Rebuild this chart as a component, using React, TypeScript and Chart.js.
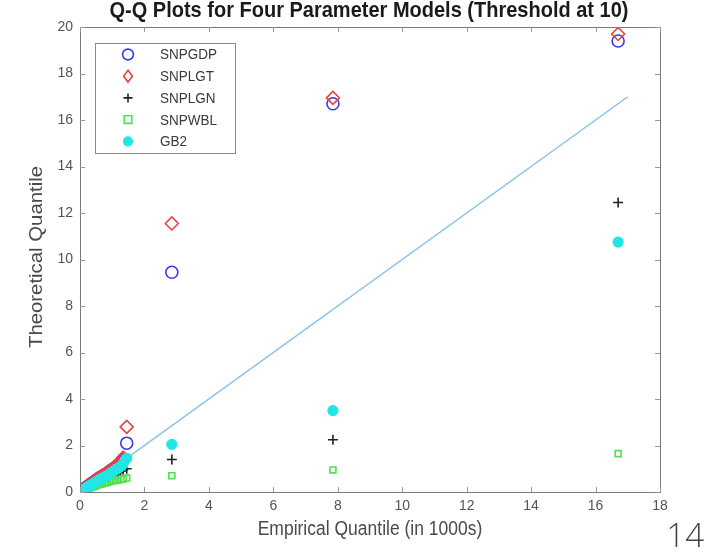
import React, { useEffect, useRef } from "react";
import { Chart, registerables } from "chart.js";

Chart.register(...registerables);

const titleText = "Q-Q Plots for Four Parameter Models (Threshold at 10)";
const xTitle = "Empirical Quantile (in 1000s)";
const yTitle = "Theoretical Quantile";
const xTicks = [0, 2, 4, 6, 8, 10, 12, 14, 16, 18];
const yTicks = [0, 2, 4, 6, 8, 10, 12, 14, 16, 18, 20];

const empirical = [0.02, 0.06, 0.1, 0.15, 0.2, 0.25, 0.3, 0.36, 0.42, 0.48, 0.55, 0.62, 0.7, 0.78, 0.86, 0.94, 1.02, 1.1, 1.18, 1.26, 1.34, 1.45, 2.85, 7.85, 16.7];
const snpgdp = [0.02, 0.06, 0.1, 0.15, 0.2, 0.25, 0.3, 0.36, 0.42, 0.48, 0.55, 0.62, 0.68, 0.75, 0.82, 0.9, 0.98, 1.06, 1.15, 1.25, 1.38, 2.1, 9.45, 16.7, 19.4];
const snplgt = [0.02, 0.06, 0.1, 0.16, 0.21, 0.26, 0.32, 0.38, 0.44, 0.5, 0.57, 0.64, 0.7, 0.78, 0.86, 0.94, 1.02, 1.1, 1.2, 1.32, 1.48, 2.8, 11.55, 16.95, 19.7];
const snplgn = [0.01, 0.04, 0.07, 0.11, 0.15, 0.19, 0.23, 0.27, 0.31, 0.35, 0.4, 0.45, 0.5, 0.55, 0.6, 0.66, 0.72, 0.78, 0.84, 0.9, 0.96, 1.0, 1.4, 2.25, 12.45];
const snpwbl = [0.01, 0.03, 0.05, 0.08, 0.11, 0.14, 0.17, 0.2, 0.23, 0.26, 0.3, 0.33, 0.36, 0.39, 0.42, 0.45, 0.48, 0.5, 0.52, 0.54, 0.56, 0.6, 0.7, 0.95, 1.65];
const gb2 = [0.02, 0.05, 0.09, 0.13, 0.18, 0.22, 0.27, 0.32, 0.37, 0.42, 0.48, 0.54, 0.6, 0.66, 0.72, 0.8, 0.88, 0.95, 1.02, 1.1, 1.2, 1.45, 2.05, 3.5, 10.75];
const refLineX = [0, 17];
const refLineY = [0, 17];

const seriesNames = ["SNPGDP", "SNPLGT", "SNPLGN", "SNPWBL", "GB2"];
const seriesValues = [snpgdp, snplgt, snplgn, snpwbl, gb2];
const seriesColors = ["#3a3ae6", "#e84444", "#222222", "#4fe04f", "#22e6e6"];
const seriesStyles = ["circle", "rectRot", "cross", "rect", "circle"];
const seriesFill = [false, false, false, false, true];
const seriesRadius = [6, 6.5, 5, 4.2, 4.8];

const FONT = "'Liberation Sans', Arial, sans-serif";

function drawMarker(ctx: CanvasRenderingContext2D, style: string, x: number, y: number, r: number, color: string, fill: boolean) {
  ctx.save();
  ctx.strokeStyle = color;
  ctx.fillStyle = color;
  ctx.lineWidth = 1.6;
  ctx.beginPath();
  if (style === "circle") {
    ctx.arc(x, y, r, 0, Math.PI * 2);
  } else if (style === "rectRot") {
    ctx.moveTo(x, y - r);
    ctx.lineTo(x + r * 0.75, y);
    ctx.lineTo(x, y + r);
    ctx.lineTo(x - r * 0.75, y);
    ctx.closePath();
  } else if (style === "cross") {
    ctx.moveTo(x - r, y);
    ctx.lineTo(x + r, y);
    ctx.moveTo(x, y - r);
    ctx.lineTo(x, y + r);
  } else {
    ctx.rect(x - r, y - r, 2 * r, 2 * r);
  }
  if (fill) ctx.fill();
  ctx.stroke();
  ctx.restore();
}

function stretchedText(ctx: CanvasRenderingContext2D, text: string, x: number, y: number, sx: number, sy: number, rot: number) {
  ctx.save();
  ctx.translate(x, y);
  ctx.rotate(rot);
  ctx.scale(sx, sy);
  ctx.fillText(text, 0, 0);
  ctx.restore();
}

const framePlugin = {
  id: "matlabFrame",
  afterDraw(chart: any) {
    const ctx: CanvasRenderingContext2D = chart.ctx;
    const a = chart.chartArea;
    const xs = chart.scales.x;
    const ys = chart.scales.y;
    ctx.save();
    ctx.strokeStyle = "#7a7a7a";
    ctx.lineWidth = 1;
    ctx.strokeRect(a.left + 0.5, a.top + 0.5, a.right - a.left, a.bottom - a.top);
    ctx.strokeStyle = "#9a9a9a";
    ctx.beginPath();
    const tl = 5;
    xTicks.forEach((v) => {
      const px = Math.round(xs.getPixelForValue(v)) + 0.5;
      ctx.moveTo(px, a.bottom);
      ctx.lineTo(px, a.bottom - tl);
      ctx.moveTo(px, a.top);
      ctx.lineTo(px, a.top + tl);
    });
    yTicks.forEach((v) => {
      const py = Math.round(ys.getPixelForValue(v)) + 0.5;
      ctx.moveTo(a.left, py);
      ctx.lineTo(a.left + tl, py);
      ctx.moveTo(a.right, py);
      ctx.lineTo(a.right - tl, py);
    });
    ctx.stroke();

    // title
    ctx.fillStyle = "#1a1a1a";
    ctx.font = `bold 20px ${FONT}`;
    ctx.textAlign = "center";
    ctx.textBaseline = "middle";
    stretchedText(ctx, titleText, 369, 11, 1, 1.1, 0);

    // axis titles
    ctx.fillStyle = "#4a4a4a";
    ctx.font = `17.5px ${FONT}`;
    stretchedText(ctx, xTitle, 370, 530, 1, 1.12, 0);
    ctx.font = `18px ${FONT}`;
    stretchedText(ctx, yTitle, 37, 257, 1.13, 1, -Math.PI / 2);

    // legend
    const bx = 95, by = 43, bw = 140, bh = 110;
    ctx.fillStyle = "#ffffff";
    ctx.fillRect(bx, by, bw, bh);
    ctx.strokeStyle = "#8a8a8a";
    ctx.strokeRect(bx + 0.5, by + 0.5, bw, bh);
    ctx.font = `13.5px ${FONT}`;
    ctx.textAlign = "left";
    ctx.textBaseline = "middle";
    seriesNames.forEach((name, i) => {
      const yy = 54.5 + i * 21.7;
      drawMarker(ctx, seriesStyles[i], 128, yy, seriesRadius[i] * 0.9, seriesColors[i], seriesFill[i]);
      ctx.fillStyle = "#3a3a3a";
      stretchedText(ctx, name, 160, yy + 1, 1, 1.05, 0);
    });
    ctx.restore();
  },
};

export default function App() {
  const ref = useRef<HTMLCanvasElement | null>(null);
  useEffect(() => {
    if (!ref.current) return;
    const datasets: any[] = seriesNames.map((name, i) => ({
      type: "scatter",
      label: name,
      data: empirical.map((x, j) => ({ x, y: seriesValues[i][j] })),
      pointStyle: seriesStyles[i],
      pointRadius: seriesRadius[i],
      pointBorderWidth: 1.6,
      borderColor: seriesColors[i],
      backgroundColor: seriesFill[i] ? seriesColors[i] : "rgba(0,0,0,0)",
      order: 5 - i,
    }));
    datasets.push({
      type: "line",
      label: "ref",
      data: refLineX.map((x, j) => ({ x, y: refLineY[j] })),
      borderColor: "#8cc2e6",
      borderWidth: 1.5,
      pointRadius: 0,
      fill: false,
      order: 10,
    });
    const chart = new Chart(ref.current, {
      type: "scatter",
      data: { datasets },
      options: {
        animation: false,
        responsive: false,
        layout: { padding: { left: 0, right: 45, top: 27, bottom: 0 } },
        plugins: { legend: { display: false }, tooltip: { enabled: false }, title: { display: false } },
        scales: {
          x: {
            type: "linear",
            min: 0,
            max: 18,
            grid: { display: false, drawTicks: false },
            border: { display: false },
            afterFit: (s: any) => { s.height = 61; },
            afterBuildTicks: (s: any) => { s.ticks = xTicks.map((v) => ({ value: v })); },
            ticks: { color: "#555555", font: { family: FONT, size: 14 }, padding: 6, maxRotation: 0 },
          },
          y: {
            type: "linear",
            min: 0,
            max: 20,
            grid: { display: false, drawTicks: false },
            border: { display: false },
            afterFit: (s: any) => { s.width = 80; },
            afterBuildTicks: (s: any) => { s.ticks = yTicks.map((v) => ({ value: v })); },
            ticks: { color: "#555555", font: { family: FONT, size: 14 }, padding: 7 },
          },
        },
      },
      plugins: [framePlugin],
    } as any);
    return () => chart.destroy();
  }, []);
  return (
    <div style={{ position: "absolute", left: 0, top: 0, width: 705, height: 553, background: "#fff", overflow: "hidden" }}>
      <canvas ref={ref} width={705} height={553} style={{ display: "block" }} />
      <div style={{ position: "absolute", right: 1, bottom: 0, fontFamily: "'Open Sans', sans-serif", fontWeight: 300, fontSize: 33, color: "#444", lineHeight: "36px" }}>14</div>
    </div>
  );
}
